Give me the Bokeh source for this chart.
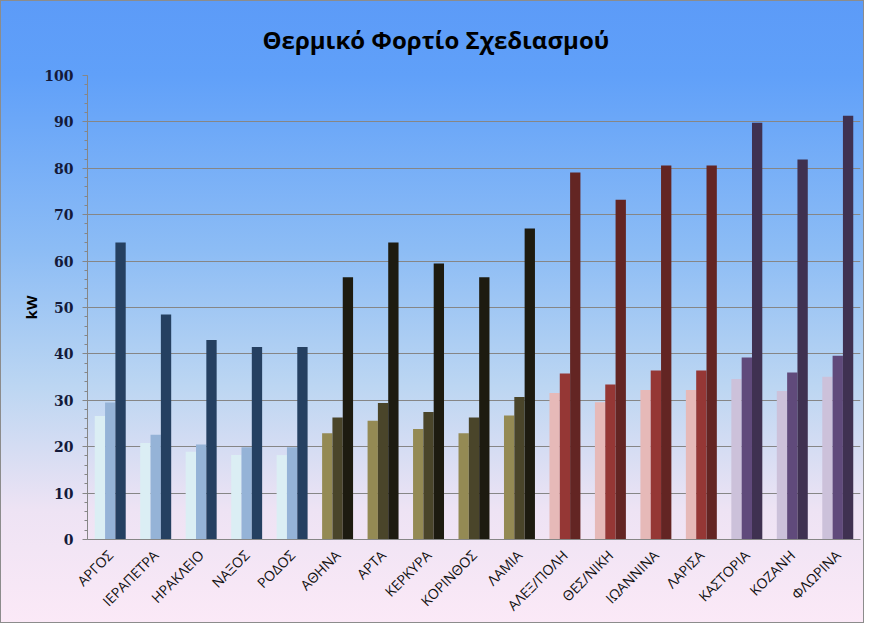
from bokeh.plotting import figure
from bokeh.models import FactorRange, Range1d, FixedTicker, ColumnDataSource
from bokeh.transform import dodge
from bokeh.embed import file_html
from bokeh.resources import INLINE
import math

cities = ["ΑΡΓΟΣ", "ΙΕΡΑΠΕΤΡΑ", "ΗΡΑΚΛΕΙΟ", "ΝΑΞΟΣ", "ΡΟΔΟΣ",
          "ΑΘΗΝΑ", "ΑΡΤΑ", "ΚΕΡΚΥΡΑ", "ΚΟΡΙΝΘΟΣ", "ΛΑΜΙΑ",
          "ΑΛΕΞ/ΠΟΛΗ", "ΘΕΣ/ΝΙΚΗ", "ΙΩΑΝΝΙΝΑ", "ΛΑΡΙΣΑ",
          "ΚΑΣΤΟΡΙΑ", "ΚΟΖΑΝΗ", "ΦΛΩΡΙΝΑ"]
series1 = [26.6, 20.8, 18.9, 18.2, 18.2,
           22.9, 25.6, 23.8, 22.9, 26.7,
           31.6, 29.6, 32.2, 32.2,
           34.6, 32.0, 35.1]
series2 = [29.5, 22.6, 20.5, 19.9, 19.9,
           26.3, 29.4, 27.5, 26.3, 30.7,
           35.8, 33.4, 36.4, 36.4,
           39.2, 36.0, 39.6]
series3 = [64.0, 48.5, 43.0, 41.5, 41.5,
           56.5, 64.0, 59.5, 56.5, 67.0,
           79.1, 73.2, 80.6, 80.6,
           89.8, 81.9, 91.3]
zones = ["A"] * 5 + ["B"] * 5 + ["C"] * 4 + ["D"] * 3
palette = {
    "A": ["#DBEEF4", "#95B3D7", "#254061"],
    "B": ["#948A54", "#4A452A", "#1D1B10"],
    "C": ["#E6B9B8", "#953735", "#632523"],
    "D": ["#CCC1DA", "#604A7B", "#3F3151"],
}
y_ticks = list(range(0, 101, 10))

src = ColumnDataSource(dict(
    city=cities, s1=series1, s2=series2, s3=series3,
    c1=[palette[z][0] for z in zones],
    c2=[palette[z][1] for z in zones],
    c3=[palette[z][2] for z in zones],
))

p = figure(width=864, height=623, output_backend="svg", toolbar_location=None,
           x_range=FactorRange(*cities, range_padding=0), y_range=Range1d(0, 100),
           title="Θερμικό Φορτίο Σχεδιασμού",
           min_border_left=87, min_border_right=4, min_border_top=71, min_border_bottom=82)
p.x_range.range_padding = 0
p.styles = {"background": "linear-gradient(to bottom, #5C9BF8 0%, #60A0F9 12%, #8CBCF5 40%, #BCD6F2 62%, #EEE3F4 82%, #FBE9F7 100%)",
            "box-shadow": "inset 0 0 0 1px #8C8C8C"}
p.border_fill_alpha = 0
p.background_fill_alpha = 0
p.outline_line_color = None

w = 0.227
p.vbar(x=dodge("city", -w, range=p.x_range), top="s1", width=w, bottom=0, fill_color="c1", line_color=None, source=src)
p.vbar(x=dodge("city", 0, range=p.x_range), top="s2", width=w, bottom=0, fill_color="c2", line_color=None, source=src)
p.vbar(x=dodge("city", w, range=p.x_range), top="s3", width=w, bottom=0, fill_color="c3", line_color=None, source=src)

p.title.align = "left"
p.title.offset = 175
p.title.text_font = "Open Sans"
p.title.text_font_size = "24px"
p.title.text_font_style = "bold"
p.title.text_color = "#000000"
p.title.standoff = 40

p.xgrid.grid_line_color = None
p.ygrid.grid_line_color = "#868686"
p.ygrid.grid_line_width = 1
p.ygrid.ticker = FixedTicker(ticks=y_ticks)

ya = p.yaxis[0]
ya.ticker = FixedTicker(ticks=y_ticks, minor_ticks=list(range(0, 101, 2)))
ya.axis_line_color = "#868686"
ya.major_tick_line_color = "#868686"
ya.minor_tick_line_color = "#868686"
ya.major_tick_out = 5
ya.major_tick_in = 0
ya.minor_tick_out = 3
ya.minor_tick_in = 0
ya.major_label_text_font = "DejaVu Serif"
ya.major_label_text_font_style = "bold"
ya.major_label_text_font_size = "14px"
ya.major_label_text_color = "#141a3a"
ya.major_label_standoff = 9
ya.axis_label = "kW"
ya.axis_label_text_font = "Open Sans"
ya.axis_label_text_font_style = "bold"
ya.axis_label_text_font_size = "15px"
ya.axis_label_text_color = "#000000"
ya.axis_label_standoff = 0

xa = p.xaxis[0]
xa.axis_line_color = "#868686"
xa.major_tick_line_color = None
xa.minor_tick_line_color = None
xa.major_label_orientation = math.pi / 4
xa.major_label_text_font = "Open Sans"
xa.major_label_text_font_size = "14px"
xa.major_label_text_color = "#111111"
xa.major_label_standoff = 7

open("out.html", "w").write(file_html(p, INLINE))
